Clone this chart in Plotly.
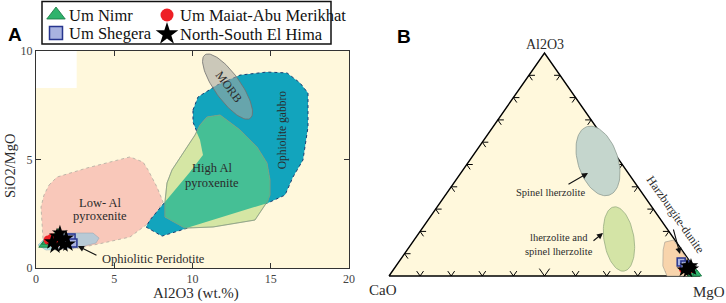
import numpy as np
import plotly.graph_objects as go

W, H = 726, 303

# ---------------- Panel A data: Al2O3 (wt.%) vs SiO2/MgO ----------------
nimr_al2o3 = [0.51, 0.70, 1.41]
nimr_si_mg = [1.06, 1.20, 1.61]
maiat_al2o3 = [0.77, 1.02, 1.21]
maiat_si_mg = [1.29, 1.38, 1.10]
shegera_al2o3 = [1.92, 2.24, 2.36]
shegera_si_mg = [1.29, 1.38, 1.15]
hima_al2o3 = [1.02, 1.34, 1.60, 1.21, 1.73, 1.92, 1.53, 2.04]
hima_si_mg = [1.20, 1.47, 1.29, 1.01, 1.06, 1.38, 1.61, 1.10]

# Field outlines (Al2O3, SiO2/MgO)
low_al_x = [0.83, 1.34, 3.26, 6.01, 6.84, 7.16, 7.73, 8.12, 7.28, 6.01, 4.28, 2.75, 1.21, 0.45, 0.32, 0.51]
low_al_y = [3.82, 4.19, 4.61, 5.12, 4.88, 4.52, 3.73, 3.04, 2.12, 1.43, 1.15, 0.92, 0.83, 1.29, 2.81, 3.36]
perid_x = [0.13, 0.58, 1.28, 3.64, 4.03, 3.83, 2.56, 0.64]
perid_y = [1.06, 1.38, 1.61, 1.61, 1.38, 1.15, 0.92, 0.83]
perid_core_x = [0.13, 0.45, 0.95, 1.10, 0.64]
perid_core_y = [1.06, 1.30, 1.32, 0.86, 0.83]
gabbro_x = [10.03, 10.35, 11.57, 13.04, 14.76, 16.04, 16.87, 17.38, 17.38, 17.06, 16.42, 15.91, 14.82,
            8.05, 7.03, 7.28, 8.24, 8.88, 9.84, 10.67, 10.48, 10.03]
gabbro_y = [7.28, 7.88, 8.43, 8.89, 9.03, 8.99, 8.53, 8.06, 6.50, 4.98, 4.19, 3.36, 3.00,
            1.47, 1.89, 2.21, 3.04, 3.59, 4.42, 5.21, 5.90, 6.73]
high_al_x = [10.93, 11.76, 13.04, 14.12, 14.76, 14.95, 14.95, 14.76, 13.99, 11.31, 9.52, 8.24, 8.24,
             8.37, 8.69, 9.39, 10.16, 10.48]
high_al_y = [6.96, 7.05, 6.36, 5.58, 4.84, 4.06, 3.36, 3.04, 2.21, 1.89, 1.84, 2.35, 3.04,
             3.92, 4.52, 5.30, 6.13, 6.59]
overlap_x = [10.93, 11.76, 13.04, 14.12, 14.76, 14.95, 14.95, 14.82, 9.52, 8.24, 8.24, 8.88, 9.84,
             10.67, 10.48, 10.26, 10.48]
overlap_y = [6.96, 7.05, 6.36, 5.58, 4.84, 4.06, 3.36, 3.00, 1.82, 2.35, 3.04, 3.59, 4.42,
             5.21, 5.90, 6.27, 6.59]
morb_center = (12.24, 8.36)

# ---------------- Panel B data: ternary Al2O3 - CaO - MgO ----------------
t_nimr_al = [1.8, 0.9, 0.9]
t_nimr_ca = [0.7, 2.1, 0.5]
t_nimr_mg = [97.5, 97.0, 98.6]
t_maiat_al = [3.1, 2.7]
t_maiat_ca = [3.9, 2.3]
t_maiat_mg = [93.0, 95.0]
t_shegera_al = [6.3, 4.9]
t_shegera_ca = [2.9, 2.4]
t_shegera_mg = [90.8, 92.7]
t_hima_al = [4.5, 3.6, 4.6, 2.7, 2.2, 3.2]
t_hima_ca = [1.9, 1.4, 0.6, 3.8, 2.8, 1.0]
t_hima_mg = [93.6, 95.0, 94.8, 93.5, 95.0, 95.8]
harz_al = [15.2, 16.1, 0.0, 0.0, 4.5, 11.7]
harz_ca = [3.7, 0.5, 0.0, 10.6, 9.7, 6.0]
harz_mg = [81.1, 83.4, 100.0, 89.4, 85.8, 82.3]

SERIF = "Liberation Serif, Times New Roman, DejaVu Serif, serif"
SANS = "Liberation Sans, Arial, sans-serif"
TXT = "#2b2b2b"

# pixel scales of the axes (for ellipse/tick geometry)
AX_SX, AX_SY = 15.65, 21.7   # panel A px per unit
BX_SX, BX_SY = 311.0, 223.0  # panel B px per unit


def ellipse(cx, cy, a_px, b_px, ang_deg, sx, sy, n=90):
    t = np.linspace(0, 2 * np.pi, n)
    th = np.radians(ang_deg)
    dx = a_px * np.cos(t) * np.cos(th) - b_px * np.sin(t) * np.sin(th)
    dy = a_px * np.cos(t) * np.sin(th) + b_px * np.sin(t) * np.cos(th)
    return list(cx + dx / sx), list(cy + dy / sy)


def tern(al, ca, mg):
    xs, ys = [], []
    for a, c, m in zip(al, ca, mg):
        s = a + c + m
        xs.append((m + 0.5 * a) / s)
        ys.append(a / s)
    return xs, ys


fig = go.Figure()


def poly(x, y, fill, line="rgba(0,0,0,0)", dash="solid", lw=0.8, xa="x", ya="y"):
    fig.add_trace(go.Scatter(x=list(x) + [x[0]], y=list(y) + [y[0]], mode="lines", fill="toself",
                             fillcolor=fill, line=dict(color=line, width=lw, dash=dash),
                             xaxis=xa, yaxis=ya, showlegend=False, hoverinfo="skip"))


# ---- Panel A fields ----
poly(low_al_x, low_al_y, "#F9C8BA", "#B0ABA0", "dot", 0.8)
poly(perid_x, perid_y, "#B8CAD6", "#9AAAB5", "solid", 0.6)
poly(perid_core_x, perid_core_y, "#AEDFE2", "rgba(0,0,0,0)")
poly(gabbro_x, gabbro_y, "#12A4BD", "#1B3F73", "dot", 1.0)
poly(high_al_x, high_al_y, "#D5E6A4", "#8E9A80", "solid", 0.6)
poly(overlap_x, overlap_y, "#45BF95")
fig.add_trace(go.Scatter(x=high_al_x + [high_al_x[0]], y=high_al_y + [high_al_y[0]], mode="lines",
                         line=dict(color="#7E9880", width=0.6), showlegend=False, hoverinfo="skip"))
mx, my = ellipse(morb_center[0], morb_center[1], 39, 13, -54.5, AX_SX, AX_SY)
poly(mx, my, "rgba(165,165,160,0.58)", "#6E6E6E", "solid", 0.8)

sym = dict(
    nimr=dict(symbol="triangle-up", color="#2FB36C", line=dict(color="#17753F", width=0.8)),
    maiat=dict(symbol="circle", color="#EE1F25", line=dict(width=0)),
    shegera=dict(symbol="square", color="#A9B3E0", line=dict(color="#27358E", width=1.5)),
    hima=dict(symbol="star", color="#000000", line=dict(width=0)),
)


def pts(x, y, key, size, xa="x", ya="y"):
    m = dict(sym[key])
    m["size"] = size
    fig.add_trace(go.Scatter(x=x, y=y, mode="markers", marker=m, xaxis=xa, yaxis=ya,
                             showlegend=False, hoverinfo="skip", cliponaxis=False))


pts(nimr_al2o3, nimr_si_mg, "nimr", 9)
pts(maiat_al2o3, maiat_si_mg, "maiat", 9)
pts(shegera_al2o3, shegera_si_mg, "shegera", 8)
pts(hima_al2o3, hima_si_mg, "hima", 12)

# ---- Panel B ----
tri_x, tri_y = tern([0, 0, 100], [100, 0, 0], [0, 100, 0])
poly(tri_x, tri_y, "#FFF8DC", "#000000", "solid", 1.4, "x2", "y2")

# triangle ticks (chevrons)
tick_x, tick_y = [], []
L = 6.0


def add_tick(p, dirs, length):
    for dx, dy in dirs:
        n = (dx * dx + dy * dy) ** 0.5
        tick_x.extend([p[0], p[0] + length * dx / n / BX_SX, None])
        tick_y.extend([p[1], p[1] + length * dy / n / BX_SY, None])


for k in range(1, 10):
    f = k / 10.0
    add_tick((f, 0.0), [(-155.5, 223), (155.5, 223)], 9 if k == 5 else L)
    add_tick((0.5 * f, f), [(1, 0), (155.5, -223)], L)
    add_tick((1 - 0.5 * f, f), [(-1, 0), (-155.5, -223)], L)
fig.add_trace(go.Scatter(x=tick_x, y=tick_y, mode="lines", line=dict(color="#000", width=1),
                         xaxis="x2", yaxis="y2", showlegend=False, hoverinfo="skip"))

sx_, sy_ = ellipse(0.672, 0.516, 36, 20, -72, BX_SX, BX_SY)
poly(sx_, sy_, "#C5D6CD", "#8E9C93", "solid", 0.8, "x2", "y2")
lx_, ly_ = ellipse(0.7395, 0.1659, 32.5, 15, -81, BX_SX, BX_SY)
poly(lx_, ly_, "#D4E4A6", "#98AD82", "solid", 0.8, "x2", "y2")
hx, hy = tern(harz_al, harz_ca, harz_mg)
poly(hx, hy, "#F8D4AC", "#A09A90", "solid", 0.6, "x2", "y2")

for key, (a, c, m), s in [("nimr", (t_nimr_al, t_nimr_ca, t_nimr_mg), 8),
                          ("maiat", (t_maiat_al, t_maiat_ca, t_maiat_mg), 8),
                          ("shegera", (t_shegera_al, t_shegera_ca, t_shegera_mg), 8),
                          ("hima", (t_hima_al, t_hima_ca, t_hima_mg), 11)]:
    bx, by = tern(a, c, m)
    pts(bx, by, key, s, "x2", "y2")

# ---- Legend (pixel axis x3/y3) ----
legend_names = ["Um Nimr", "Um Shegera", "Um Maiat-Abu Merikhat", "North-South El Hima"]
legend_keys = ["nimr", "shegera", "maiat", "hima"]
legend_pos = [(56, 15), (56, 33), (167, 15), (167, 34)]
legend_size = {"nimr": 16, "shegera": 13, "maiat": 13, "hima": 17}
for name, key, (lx, ly) in zip(legend_names, legend_keys, legend_pos):
    pts([lx], [ly], key, legend_size[key], "x3", "y3")

annotations = []
for name, (lx, ly) in zip(legend_names, legend_pos):
    annotations.append(dict(x=lx + 11, y=ly, xref="x3", yref="y3", text=name, showarrow=False,
                            xanchor="left", yanchor="middle", font=dict(family=SERIF, size=16.5, color="#111")))


def ann(x, y, text, ref="", size=12, angle=0, xanchor="center", family=SERIF, color=TXT, **kw):
    d = dict(x=x, y=y, text=text, showarrow=False, textangle=angle, xanchor=xanchor, yanchor="middle",
             font=dict(family=family, size=size, color=color))
    if ref:
        d.update(xref="x" + ref if ref != "1" else "x", yref="y" + ref if ref != "1" else "y")
    d.update(kw)
    annotations.append(d)


def arrow(x, y, ax, ay, xr, yr):
    annotations.append(dict(x=x, y=y, ax=ax, ay=ay, xref=xr, yref=yr, axref=xr, ayref=yr, text="",
                            showarrow=True, arrowhead=2, arrowsize=1.1, arrowwidth=1.1, arrowcolor="#111"))


# panel A labels
ann(4.1, 3.0, "Low- Al", "1", 12.5)
ann(4.1, 2.4, "pyroxenite", "1", 12.5)
ann(11.25, 4.6, "High Al", "1", 12.5)
ann(11.25, 3.92, "pyroxenite", "1", 12.5)
ann(15.8, 6.36, "Ophiolite gabbro", "1", 11.5, -90)
ann(12.33, 8.34, "MORB", "1", 12, 53)
ann(4.1, 0.41, "Ophiolitic Peridotite", "1", 12.5, xanchor="left")
arrow(2.68, 1.01, 3.96, 0.55, "x", "y")

# panel B labels
ann(0.5, 1.036, "Al2O3", "2", 14)
ann(-0.019, -0.063, "CaO", "2", 15)
ann(1.029, -0.072, "MgO", "2", 15)
ann(0.5177, 0.3767, "Spinel lherzolite", "2", 10.5)
arrow(0.6399, 0.4619, 0.5723, 0.408, "x2", "y2")
ann(0.5466, 0.172, "lherzolite and", "2", 10.5)
ann(0.5466, 0.108, "spinel lherzolite", "2", 10.5)
arrow(0.6881, 0.1928, 0.6527, 0.1525, "x2", "y2")
ann(0.9228, 0.275, "Harzburgite-dunite", "2", 12, 55)
arrow(0.9357, 0.0987, 0.9132, 0.2152, "x2", "y2")

# axis titles and panel letters (paper)
for px_, py_, text, fam, size, ang, col in [
        (196, 293, "Al2O3 (wt.%)", SERIF, 15, 0, TXT),
        (10, 166, "SiO2/MgO", SERIF, 14.5, -90, TXT),
        (15, 34, "<b>A</b>", SANS, 19, 0, "#000"),
        (404, 36, "<b>B</b>", SANS, 19, 0, "#000")]:
    annotations.append(dict(x=px_ / W, y=1 - py_ / H, xref="paper", yref="paper", text=text,
                            xanchor="center", yanchor="middle", showarrow=False, textangle=ang,
                            font=dict(family=fam, size=size, color=col)))

shapes = [
    dict(type="rect", xref="x", yref="y", x0=0, x1=20, y0=0, y1=10, fillcolor="#FFF8DC",
         line=dict(width=0), layer="below"),
    dict(type="rect", xref="x", yref="y", x0=0, x1=2.6, y0=8.3, y1=10, fillcolor="#FFFFFF",
         line=dict(width=0), layer="below"),
    dict(type="rect", xref="paper", yref="paper", x0=42 / W, x1=331 / W, y0=1 - 44 / H, y1=1 - 1.5 / H,
         fillcolor="rgba(0,0,0,0)", line=dict(color="#111", width=1.5)),
]

axA = dict(showgrid=False, zeroline=False, showline=True, linecolor="#333", linewidth=1, mirror="ticks",
           ticks="inside", ticklen=5, tickcolor="#333", automargin=False,
           tickfont=dict(family=SERIF, size=12, color="#444"))
hid = dict(visible=False, automargin=False)

fig.update_layout(
    width=W, height=H, margin=dict(l=0, r=0, t=0, b=0, autoexpand=False),
    paper_bgcolor="white", plot_bgcolor="rgba(0,0,0,0)", showlegend=False,
    xaxis=dict(domain=[36 / W, 349 / W], range=[0, 20], tickvals=[0, 5, 10, 15, 20], anchor="y", **axA),
    yaxis=dict(domain=[35 / H, 252 / H], range=[0, 10], tickvals=[0, 5, 10], anchor="x", **axA),
    xaxis2=dict(domain=[380 / W, 1], range=[-9 / 311, 337 / 311], anchor="y2", **hid),
    yaxis2=dict(domain=[0, 1], range=[-27 / 223, 276 / 223], anchor="x2", **hid),
    xaxis3=dict(domain=[0, 1], range=[0, W], anchor="y3", **hid),
    yaxis3=dict(domain=[0, 1], range=[H, 0], anchor="x3", **hid),
    annotations=annotations, shapes=shapes,
)

fig.write_html("out.html", config={"displayModeBar": False},
               post_script="document.body.style.margin='0px';document.body.style.overflow='hidden';")
